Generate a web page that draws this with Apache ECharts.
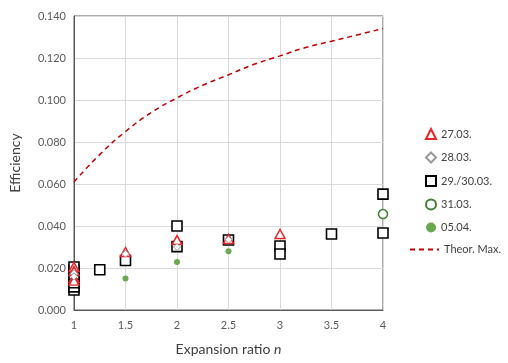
<!DOCTYPE html>
<html><head><meta charset="utf-8">
<script src="https://cdn.jsdelivr.net/npm/echarts@6/dist/echarts.min.js"></script>
<style>html,body{margin:0;padding:0;background:#fff}#c{width:508px;height:363px}</style>
</head><body><div id="c"></div>
<script>
var xTicks = [1, 1.5, 2, 2.5, 3, 3.5, 4];
var s2703 = [[1,0.0205],[1,0.0185],[1,0.0152],[1,0.0140],[1.5,0.0276],[2,0.0333],[2.5,0.0338],[3,0.0362]];
var s2803 = [[1,0.0175],[1,0.0160],[1.5,0.0268],[2,0.0300],[2.5,0.0335]];
var s2930 = [[1,0.0095],[1,0.0110],[1,0.0130],[1,0.0150],[1,0.0170],[1,0.0190],[1,0.0205],[1.25,0.0192],[1.5,0.0236],[2,0.0400],[2,0.0302],[2.5,0.0333],[3,0.0305],[3,0.0267],[3.5,0.0362],[4,0.0552],[4,0.0367]];
var s3103 = [[4,0.0457]];
var s0504 = [[1.5,0.0150],[2,0.0229],[2.5,0.0280]];
var theorX = [1,1.25,1.5,1.75,2,2.25,2.5,2.75,3,3.25,3.5,3.75,4];
var theorY = [0.061,0.074,0.085,0.094,0.101,0.107,0.112,0.117,0.121,0.125,0.128,0.131,0.134];
var theor = theorX.map(function(x,i){return [x, theorY[i]];});

var font = 'Lato, "Open Sans", sans-serif';
var chart = echarts.init(document.getElementById('c'), null, {renderer:'canvas'});
chart.setOption({
  animation:false,
  textStyle:{fontFamily:font},
  grid:{left:73,right:125,top:16,bottom:53,show:true,borderColor:'#595959',borderWidth:1,backgroundColor:'transparent'},
  xAxis:{type:'value',min:1,max:4,interval:0.5,
    name:'Expansion ratio {i|n}',nameLocation:'middle',nameGap:32,
    nameTextStyle:{fontSize:14,color:'#404040',fontFamily:font,rich:{i:{fontStyle:'italic',fontSize:14,color:'#404040',fontFamily:font}}},
    axisLine:{lineStyle:{color:'#595959'}},axisTick:{show:false},
    axisLabel:{fontSize:11,color:'#595959',margin:10,formatter:function(v){return String(v);}},
    splitLine:{lineStyle:{color:'#d9d9d9'}}},
  yAxis:{type:'value',min:0,max:0.14,interval:0.02,
    name:'Efficiency',nameLocation:'middle',nameGap:52,
    nameTextStyle:{fontSize:14,color:'#404040',fontFamily:font},
    axisLine:{show:true,lineStyle:{color:'#595959'}},axisTick:{show:false},
    axisLabel:{fontSize:11,color:'#595959',margin:8,formatter:function(v){return v.toFixed(3);}},
    splitLine:{lineStyle:{color:'#d9d9d9'}}},
  legend:[
    {orient:'vertical',left:420,top:123,itemGap:11.5,itemWidth:10,itemHeight:10,
     textStyle:{fontSize:11,color:'#404040',fontFamily:font},
     data:['27.03.','28.03.','29./30.03.','31.03.','05.04.']},
    {orient:'vertical',left:404,top:239,itemWidth:29,itemHeight:2,
     textStyle:{fontSize:11,color:'#404040',fontFamily:font},
     data:[{name:'Theor. Max.',itemStyle:{opacity:0}}]}
  ],
  series:[
    {name:'Theor. Max.',type:'line',data:theor,smooth:true,symbol:'none',z:1,
     lineStyle:{color:'#c00000',type:[5,4],width:1.5},itemStyle:{color:'#c00000'}},
    {name:'29./30.03.',type:'scatter',data:s2930,symbol:'rect',symbolSize:10,z:2,
     itemStyle:{color:'#ffffff',borderColor:'#000000',borderWidth:1.6,opacity:1}},
    {name:'27.03.',type:'scatter',data:s2703,symbol:'triangle',symbolSize:[10,9],z:3,
     itemStyle:{color:'#ffffff',borderColor:'#e8252a',borderWidth:1.5,opacity:1}},
    {name:'28.03.',type:'scatter',data:s2803,symbol:'diamond',symbolSize:[7,7],z:4,
     itemStyle:{color:'#ffffff',borderColor:'#999999',borderWidth:1,opacity:1}},
    {name:'31.03.',type:'scatter',data:s3103,symbol:'circle',symbolSize:9,z:4,
     itemStyle:{color:'#ffffff',borderColor:'#3f7f2f',borderWidth:1.5,opacity:1}},
    {name:'05.04.',type:'scatter',data:s0504,symbol:'circle',symbolSize:6,z:5,
     itemStyle:{color:'#6aa84f',opacity:1}}
  ]
});
</script></body></html>
